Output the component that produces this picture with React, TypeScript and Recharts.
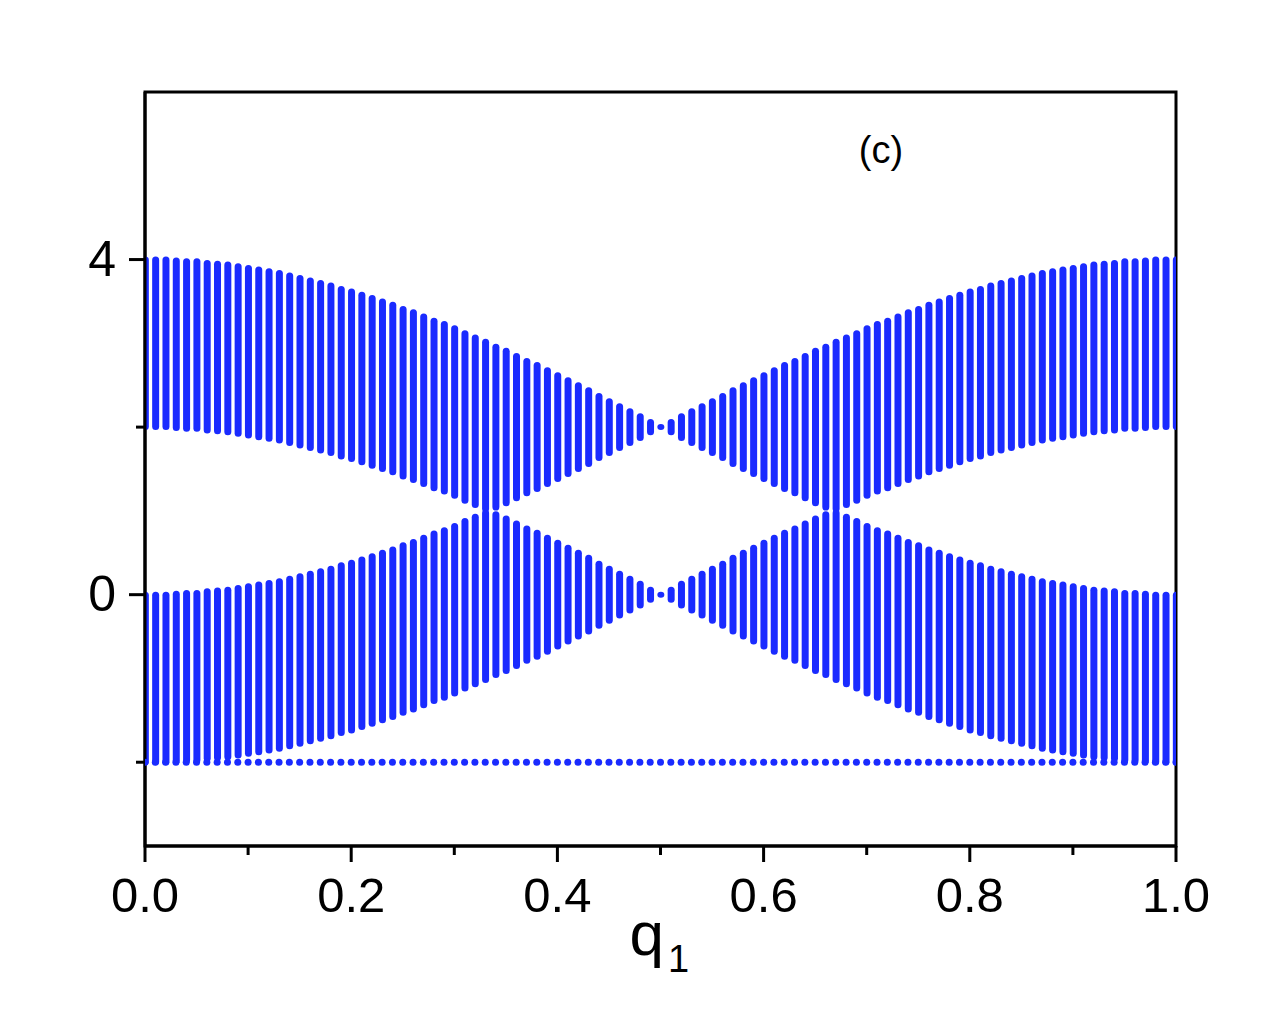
import React from "react";
import {
  ComposedChart,
  Bar,
  Scatter,
  XAxis,
  YAxis,
  ReferenceArea,
} from "recharts";

// q1 positions of the vertical bars
const Q1 = [
  0, 0.01, 0.02, 0.03, 0.04, 0.05, 0.06, 0.07, 0.08, 0.09,
  0.1, 0.11, 0.12, 0.13, 0.14, 0.15, 0.16, 0.17, 0.18, 0.19,
  0.2, 0.21, 0.22, 0.23, 0.24, 0.25, 0.26, 0.27, 0.28, 0.29,
  0.3, 0.31, 0.32, 0.33, 0.34, 0.35, 0.36, 0.37, 0.38, 0.39,
  0.4, 0.41, 0.42, 0.43, 0.44, 0.45, 0.46, 0.47, 0.48, 0.49,
  0.5, 0.51, 0.52, 0.53, 0.54, 0.55, 0.56, 0.57, 0.58, 0.59,
  0.6, 0.61, 0.62, 0.63, 0.64, 0.65, 0.66, 0.67, 0.68, 0.69,
  0.7, 0.71, 0.72, 0.73, 0.74, 0.75, 0.76, 0.77, 0.78, 0.79,
  0.8, 0.81, 0.82, 0.83, 0.84, 0.85, 0.86, 0.87, 0.88, 0.89,
  0.9, 0.91, 0.92, 0.93, 0.94, 0.95, 0.96, 0.97, 0.98, 0.99,
  1.0,
];

// upper band: top and bottom edge
const UPPER_TOP = [
  4.0, 4.0, 4.0, 3.99, 3.98, 3.98, 3.96, 3.95, 3.94, 3.92,
  3.9, 3.88, 3.86, 3.84, 3.81, 3.78, 3.75, 3.72, 3.69, 3.65,
  3.62, 3.58, 3.54, 3.5, 3.46, 3.41, 3.37, 3.32, 3.27, 3.23,
  3.18, 3.12, 3.07, 3.02, 2.96, 2.91, 2.85, 2.79, 2.74, 2.68,
  2.62, 2.56, 2.5, 2.44, 2.37, 2.31, 2.25, 2.19, 2.13, 2.06,
  2.0,
  2.06, 2.13, 2.19, 2.25, 2.31, 2.37, 2.44, 2.5, 2.56, 2.62,
  2.68, 2.74, 2.79, 2.85, 2.91, 2.96, 3.02, 3.07, 3.12, 3.18,
  3.23, 3.27, 3.32, 3.37, 3.41, 3.46, 3.5, 3.54, 3.58, 3.62,
  3.65, 3.69, 3.72, 3.75, 3.78, 3.81, 3.84, 3.86, 3.88, 3.9,
  3.92, 3.94, 3.95, 3.96, 3.98, 3.98, 3.99, 4.0, 4.0, 4.0,
];
const UPPER_BOTTOM = [
  2.0, 2.0, 2.0, 1.99, 1.98, 1.98, 1.96, 1.95, 1.94, 1.92,
  1.9, 1.88, 1.86, 1.84, 1.81, 1.78, 1.75, 1.72, 1.69, 1.65,
  1.62, 1.58, 1.54, 1.5, 1.46, 1.41, 1.37, 1.32, 1.27, 1.23,
  1.18, 1.12, 1.07, 1.02, 1.04, 1.09, 1.15, 1.21, 1.26, 1.32,
  1.38, 1.44, 1.5, 1.56, 1.63, 1.69, 1.75, 1.81, 1.87, 1.94,
  2.0,
  1.94, 1.87, 1.81, 1.75, 1.69, 1.63, 1.56, 1.5, 1.44, 1.38,
  1.32, 1.26, 1.21, 1.15, 1.09, 1.04, 1.02, 1.07, 1.12, 1.18,
  1.23, 1.27, 1.32, 1.37, 1.41, 1.46, 1.5, 1.54, 1.58, 1.62,
  1.65, 1.69, 1.72, 1.75, 1.78, 1.81, 1.84, 1.86, 1.88, 1.9,
  1.92, 1.94, 1.95, 1.96, 1.98, 1.98, 1.99, 2.0, 2.0, 2.0,
];

// lower band: top and bottom edge
const LOWER_TOP = [
  0.0, 0.0, 0.0, 0.01, 0.02, 0.02, 0.04, 0.05, 0.06, 0.08,
  0.1, 0.12, 0.14, 0.16, 0.19, 0.22, 0.25, 0.28, 0.31, 0.35,
  0.38, 0.42, 0.46, 0.5, 0.54, 0.59, 0.63, 0.68, 0.73, 0.77,
  0.82, 0.88, 0.93, 0.98, 0.96, 0.91, 0.85, 0.79, 0.74, 0.68,
  0.62, 0.56, 0.5, 0.44, 0.37, 0.31, 0.25, 0.19, 0.13, 0.06,
  0.0,
  0.06, 0.13, 0.19, 0.25, 0.31, 0.37, 0.44, 0.5, 0.56, 0.62,
  0.68, 0.74, 0.79, 0.85, 0.91, 0.96, 0.98, 0.93, 0.88, 0.82,
  0.77, 0.73, 0.68, 0.63, 0.59, 0.54, 0.5, 0.46, 0.42, 0.38,
  0.35, 0.31, 0.28, 0.25, 0.22, 0.19, 0.16, 0.14, 0.12, 0.1,
  0.08, 0.06, 0.05, 0.04, 0.02, 0.02, 0.01, 0.0, 0.0, 0.0,
];
const LOWER_BOTTOM = [
  -2.0, -2.0, -2.0, -1.99, -1.98, -1.98, -1.96, -1.95, -1.94, -1.92,
  -1.9, -1.88, -1.86, -1.84, -1.81, -1.78, -1.75, -1.72, -1.69, -1.65,
  -1.62, -1.58, -1.54, -1.5, -1.46, -1.41, -1.37, -1.32, -1.27, -1.23,
  -1.18, -1.12, -1.07, -1.02, -0.96, -0.91, -0.85, -0.79, -0.74, -0.68,
  -0.62, -0.56, -0.5, -0.44, -0.37, -0.31, -0.25, -0.19, -0.13, -0.06,
  0.0,
  -0.06, -0.13, -0.19, -0.25, -0.31, -0.37, -0.44, -0.5, -0.56, -0.62,
  -0.68, -0.74, -0.79, -0.85, -0.91, -0.96, -1.02, -1.07, -1.12, -1.18,
  -1.23, -1.27, -1.32, -1.37, -1.41, -1.46, -1.5, -1.54, -1.58, -1.62,
  -1.65, -1.69, -1.72, -1.75, -1.78, -1.81, -1.84, -1.86, -1.88, -1.9,
  -1.92, -1.94, -1.95, -1.96, -1.98, -1.98, -1.99, -2.0, -2.0, -2.0,
];

// flat band
const FLAT_BAND = -2;

const X_TICKS = [0, 0.1, 0.2, 0.3, 0.4, 0.5, 0.6, 0.7, 0.8, 0.9, 1.0];
const X_LABELED = [0, 0.2, 0.4, 0.6, 0.8, 1.0];
const Y_TICKS = [-2, 0, 2, 4];
const Y_LABELED = [0, 4];

const BLUE = "#1a2bff";
const FONT = "'Liberation Sans', Arial, sans-serif";
const BAR_W = 7;

const data = Q1.map((q, i) => ({
  q,
  upper: [UPPER_BOTTOM[i], UPPER_TOP[i]],
  lower: [LOWER_BOTTOM[i], LOWER_TOP[i]],
  flat: FLAT_BAND,
}));

function BandBar(props: any) {
  const { x, y, width, height } = props;
  if (x == null || y == null) return null;
  const top = Math.min(y, y + height);
  const h = Math.abs(height);
  return (
    <rect x={x} y={top - 3} width={width} height={h + 6} rx={3.5} ry={3.5} fill={BLUE} />
  );
}

function FlatDot(props: any) {
  const { cx, cy } = props;
  if (cx == null || cy == null) return null;
  return <circle cx={cx} cy={cy} r={3.5} fill={BLUE} />;
}

function XTick(props: any) {
  const { x, y, payload } = props;
  const v = payload.value;
  const major = X_LABELED.some((t) => Math.abs(t - v) < 1e-6);
  return (
    <g>
      <line x1={x} x2={x} y1={y} y2={y + (major ? 16 : 9)} stroke="#000" strokeWidth={3} />
      {major && (
        <text x={x} y={y + 66} textAnchor="middle" fontSize={49} fontFamily={FONT} fill="#000">
          {v.toFixed(1)}
        </text>
      )}
    </g>
  );
}

function YTick(props: any) {
  const { x, y, payload } = props;
  const v = payload.value;
  const major = Y_LABELED.includes(v);
  return (
    <g>
      <line x1={x - (major ? 16 : 9)} x2={x} y1={y} y2={y} stroke="#000" strokeWidth={3} />
      {major && (
        <text x={x - 29} y={y + 16} textAnchor="end" fontSize={50} fontFamily={FONT} fill="#000">
          {String(v)}
        </text>
      )}
    </g>
  );
}

function XTitle(props: any) {
  const { viewBox } = props;
  const cx = viewBox.x + viewBox.width / 2;
  return (
    <text x={cx - 31} y={955} fontSize={62} fontFamily={FONT} fill="#000">
      q
      <tspan fontSize={38} dx={4} dy={17}>
        1
      </tspan>
    </text>
  );
}

export default function App() {
  return (
    <div style={{ position: "absolute", left: 0, top: 0, background: "#fff" }}>
      <ComposedChart
        width={1270}
        height={1024}
        data={data}
        margin={{ top: 92, right: 94, bottom: 98, left: 45 }}
        barGap={-BAR_W}
      >
        <XAxis
          dataKey="q"
          type="number"
          domain={[0, 1]}
          ticks={X_TICKS}
          interval={0}
          height={80}
          tickSize={0}
          tickMargin={0}
          tickLine={false}
          axisLine={{ stroke: "#000", strokeWidth: 3 }}
          tick={<XTick />}
          label={{ content: <XTitle /> }}
          allowDataOverflow
        />
        <YAxis
          type="number"
          domain={[-3, 6]}
          ticks={Y_TICKS}
          interval={0}
          width={100}
          tickSize={0}
          tickMargin={0}
          tickLine={false}
          axisLine={{ stroke: "#000", strokeWidth: 3 }}
          tick={<YTick />}
          allowDataOverflow
        />
        <ReferenceArea
          x1={0}
          x2={1}
          y1={-3}
          y2={6}
          fill="none"
          fillOpacity={0}
          stroke="#000"
          strokeWidth={3}
        />
        <Bar dataKey="upper" barSize={BAR_W} fill={BLUE} shape={<BandBar />} isAnimationActive={false} />
        <Bar dataKey="lower" barSize={BAR_W} fill={BLUE} shape={<BandBar />} isAnimationActive={false} />
        <Scatter dataKey="flat" fill={BLUE} shape={<FlatDot />} isAnimationActive={false} />
        <text x={881} y={163} textAnchor="middle" fontSize={38} fontFamily={FONT} fill="#000">
          (c)
        </text>
      </ComposedChart>
    </div>
  );
}
